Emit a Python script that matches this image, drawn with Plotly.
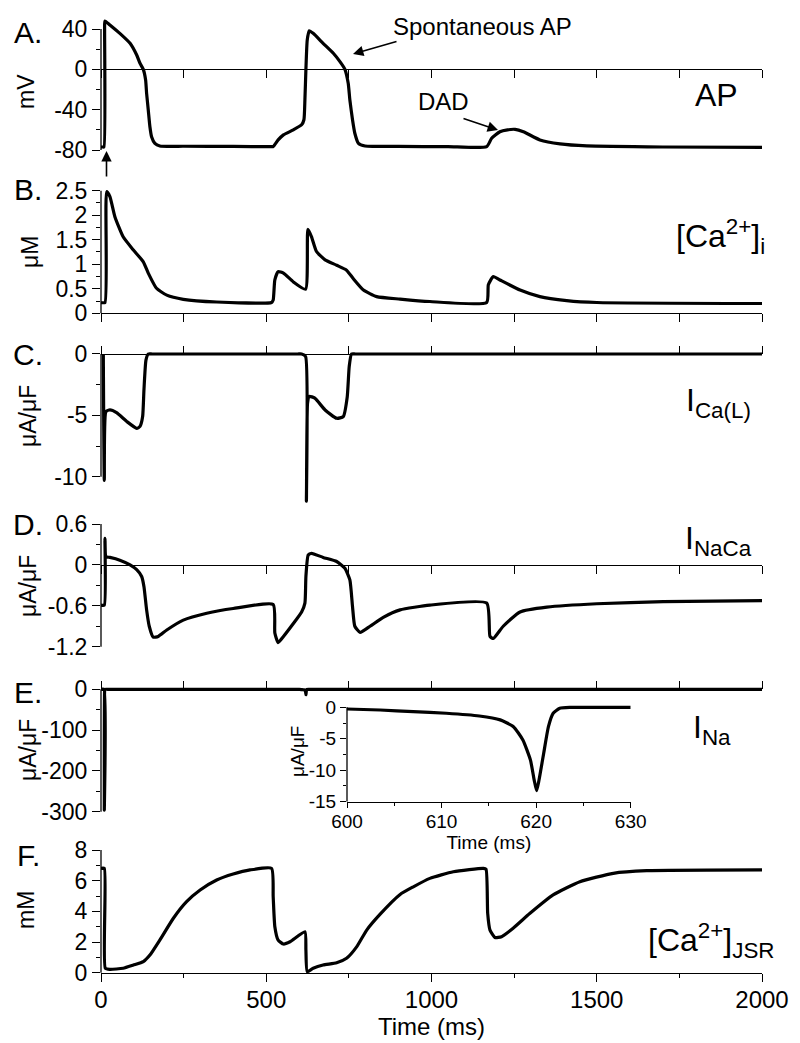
import plotly.graph_objects as go

# The page body adds an 8px offset, so the figure is 8px smaller and all
# pixel positions below are given in window pixels and shifted by OFF.
OFF = 8
W, H = 800 - OFF, 1043 - OFF
FONT = "Liberation Sans"

# ---------------- data ----------------
t_ap = [0, 5, 9, 11, 12, 27, 57, 88, 108, 118, 128, 135, 138, 143, 148, 153, 163, 178, 250, 400, 516,
        521, 536, 552, 582, 607, 614, 617, 620, 624, 630, 642, 672, 703, 723, 738, 748, 753, 761, 768,
        779, 799, 900, 1050, 1167, 1182, 1207, 1230, 1253, 1278, 1328, 1389, 1470, 1700, 2000]
v_ap = [-77, -77, -77, 45, 48, 44, 35.7, 25.8, 14.2, 6, 0, -10.6, -23.8, -40.3, -56.9, -66.8, -73.4, -76, -76.3, -76.5, -76.7,
        -76.7, -70, -65, -60, -55, -50, -30, 0, 29, 38.3, 35.7, 25.8, 15.9, 7.6, 0, -13.9, -30.4, -50, -63.4,
        -73.4, -76, -76.5, -76.7, -76.7, -68.4, -61.9, -60, -59.5, -61.9, -70, -74, -76, -77, -77.3]

t_cai = [0, 12, 17, 27, 42, 67, 98, 128, 143, 168, 199, 249, 350, 516, 521, 526, 536, 552, 582, 619,
         626, 637, 652, 678, 713, 743, 763, 794, 834, 905, 995, 1167, 1172, 1187, 1207, 1268, 1328, 1409, 1500, 2000]
cai = [0.22, 0.22, 2.48, 2.38, 1.97, 1.56, 1.29, 1.05, 0.82, 0.51, 0.37, 0.285, 0.23, 0.22, 0.27, 0.68, 0.85, 0.82, 0.64, 0.49,
       1.71, 1.56, 1.26, 1.09, 0.98, 0.88, 0.71, 0.475, 0.34, 0.29, 0.24, 0.22, 0.58, 0.75, 0.68, 0.475, 0.34, 0.26, 0.22, 0.2]

t_ical = [7, 10, 15, 27, 47, 78, 108, 118, 126, 130, 136, 143, 155, 400, 595, 607, 619, 621.5, 625, 630, 647, 678,
          713, 733, 745, 751, 758, 770, 1000, 2000]
ical = [0, -10.3, -4.7, -4.56, -4.78, -5.5, -6.06, -5.9, -5.1, -2.9, -0.5, 0, 0, 0, 0, 0, -0.2, -12.0, -4.0, -3.45, -3.6, -4.56,
        -5.24, -5.1, -3.5, -1.03, 0, 0, 0, 0]

t_inaca = [0, 10, 12, 15, 27, 57, 88, 108, 123, 130, 138, 146, 158, 173, 199, 249, 320, 400, 521, 526,
           536, 552, 582, 607, 617, 620, 627, 637, 672, 713, 738, 753, 761, 768, 784, 814, 854, 905, 995, 1167,
           1177, 1187, 1217, 1268, 1349, 1500, 1701, 2000]
inaca = [-0.59, -0.59, 0.39, 0.12, 0.11, 0.07, 0.0, -0.07, -0.17, -0.32, -0.66, -0.9, -1.06, -1.05, -0.955, -0.81, -0.71, -0.64, -0.58, -1.0,
         -1.14, -1.05, -0.86, -0.69, -0.56, -0.17, 0.145, 0.17, 0.11, 0.05, -0.05, -0.22, -0.61, -0.9, -0.99, -0.9, -0.77, -0.66, -0.59, -0.56,
         -1.05, -1.08, -0.9, -0.69, -0.62, -0.57, -0.54, -0.525]

t_ina = [0, 9, 10, 11, 12, 20, 300, 600, 607, 614, 617.6, 618.6, 619.4, 620.05, 620.8, 621.3, 621.8, 622.5, 630, 640, 1000, 2000]
ina = [0, 0, -296, -3, 0, 0, -0.1, -0.3, -0.7, -1.38, -3.08, -5.2, -8.4, -13.25, -7.3, -3.08, -0.95, -0.16, 0, 0, 0, 0]

t_inset = [600, 603.5, 607, 610.5, 614, 616.2, 617.6, 618.6, 619.4, 619.8, 620.05, 620.3, 620.8, 621.3, 621.8, 622.5, 623.6, 630]
i_inset = [-0.27, -0.43, -0.7, -0.95, -1.38, -2.0, -3.08, -5.2, -8.4, -11.6, -13.25, -11.6, -7.3, -3.08, -0.95, -0.16, -0.02, -0.02]

t_jsr = [0, 10, 13, 27, 67, 98, 128, 148, 178, 219, 259, 300, 350, 400, 451, 516, 521, 526, 536, 552,
         572, 617, 620, 624, 642, 672, 713, 743, 774, 804, 844, 905, 945, 995, 1066, 1157, 1165, 1170, 1177, 1192,
         1212, 1247, 1298, 1368, 1449, 1550, 1651, 2000]
jsr = [6.8, 6.8, 0.29, 0.22, 0.29, 0.5, 0.72, 1.15, 2.13, 3.55, 4.63, 5.39, 6.04, 6.43, 6.7, 6.8, 4.95, 3.0, 2.13, 1.87,
       2.02, 2.67, 1.48, 0.07, 0.29, 0.5, 0.65, 0.94, 1.7, 2.78, 3.8, 5.1, 5.6, 6.15, 6.58, 6.8, 6.74, 3.87, 2.78, 2.3,
       2.35, 2.9, 3.87, 5.07, 5.93, 6.48, 6.65, 6.7]

# tick values / labels
yt_a = [40, 0, -40, -80]
ym_a = [20, -20, -60]
yt_b = [0, 0.5, 1, 1.5, 2, 2.5]
ym_b = [0.25, 0.75, 1.25, 1.75, 2.25]
yt_c = [0, -5, -10]
ym_c = [-2.5, -7.5]
yt_d = [0.6, 0, -0.6, -1.2]
ym_d = [0.3, -0.3, -0.9]
yt_e = [0, -100, -200, -300]
ym_e = [-50, -150, -250]
yt_f = [0, 2, 4, 6, 8]
ym_f = [1, 3, 5, 7]
yt_in = [0, -5, -10, -15]
ym_in = [-2.5, -7.5, -12.5]
xt_main = [0, 500, 1000, 1500, 2000]
xm_main = [250, 750, 1250, 1750]
xt_in = [600, 610, 620, 630]
xm_in = [605, 615, 625]

# ---------------- layout geometry (window pixels -> paper) ----------------
def px(x):
    return (x - OFF) / W

def py(y):
    return 1 - (y - OFF) / H

X0, X1 = 101, 762
XD = [px(X0), px(X1)]

def ygeom(va, pa, vb, pb, rng):
    s = (pb - pa) / (va - vb)
    top = pa - (rng[1] - va) * s
    bot = pb + (vb - rng[0]) * s
    zero = pa + va * s
    return [py(bot), py(top)], py(zero)

panels = [
    dict(tr=(t_ap, v_ap), cal=(40, 29, -80, 150), rng=[-84, 52], tv=yt_a, mv=ym_a, side="bottom"),
    dict(tr=(t_cai, cai), cal=(2.5, 190.7, 0, 313.3), rng=[-0.05, 2.6], tv=yt_b, mv=ym_b, side="bottom"),
    dict(tr=(t_ical, ical), cal=(0, 354, -10, 476.7), rng=[-12.6, 0.6], tv=yt_c, mv=ym_c, side="top"),
    dict(tr=(t_inaca, inaca), cal=(0.6, 524, -1.2, 646.7), rng=[-1.25, 0.65], tv=yt_d, mv=ym_d, side="bottom"),
    dict(tr=(t_ina, ina), cal=(0, 689.3, -300, 811.7), rng=[-305, 12], tv=yt_e, mv=ym_e, side="top"),
    dict(tr=(t_jsr, jsr), cal=(8, 850, 0, 972.7), rng=[-0.15, 8.2], tv=yt_f, mv=ym_f, side="bottom"),
]

fig = go.Figure()
layout = dict(width=W, height=H, margin=dict(l=0, r=0, t=0, b=0, autoexpand=False), showlegend=False,
              paper_bgcolor="white", plot_bgcolor="white",
              font=dict(family=FONT, color="black", size=22))
shapes = []
LW = 3.2
AX = 1.3
LINE = dict(color="black", width=LW, shape="spline", smoothing=0.5)

def fmt(v):
    return "%g" % v

for i, p in enumerate(panels, start=1):
    sfx = "" if i == 1 else str(i)
    dom, zero = ygeom(*p["cal"], p["rng"])
    fig.add_trace(go.Scatter(x=p["tr"][0], y=p["tr"][1], mode="lines", line=LINE,
                             xaxis="x" + sfx, yaxis="y" + sfx, hoverinfo="skip"))
    last = (i == 6)
    xa = dict(domain=XD, range=[0, 2000], anchor="free", position=zero, side=p["side"], automargin=False,
              showline=True, linecolor="black", linewidth=AX, showgrid=False, zeroline=False,
              ticks="outside", tickcolor="black", tickwidth=AX, ticklen=8)
    if last:
        xa.update(tickmode="array", tickvals=xt_main, ticktext=[str(v) for v in xt_main],
                  showticklabels=True, tickfont=dict(size=24, family=FONT), ticklabelstandoff=-3,
                  minor=dict(tickmode="array", tickvals=xm_main, ticks="outside",
                             ticklen=4, tickcolor="black", tickwidth=AX),
                  title=dict(text="Time (ms)", font=dict(size=24, family=FONT), standoff=4))
    else:
        xa.update(tickmode="linear", tick0=0, dtick=250, showticklabels=False)
    ya = dict(domain=dom, range=p["rng"], anchor="x" + sfx, automargin=False,
              showline=False, showgrid=False, zeroline=False,
              tickmode="array", tickvals=p["tv"], ticktext=[fmt(v) for v in p["tv"]],
              ticks="outside", tickcolor="black", tickwidth=AX, ticklen=8,
              tickfont=dict(size=23, family=FONT),
              minor=dict(tickmode="array", tickvals=p["mv"], ticks="outside", ticklen=4,
                         tickcolor="black", tickwidth=AX))
    layout["xaxis" + sfx] = xa
    layout["yaxis" + sfx] = ya
    shapes.append(dict(type="line", xref="paper", yref="y" + sfx, x0=px(X0), x1=px(X0),
                       y0=min(p["tv"]), y1=max(p["tv"]), line=dict(color="black", width=AX)))

# inset (panel E)
IX0, IX1 = 347, 630.7
in_dom, _ = ygeom(0, 707.3, -15, 801.7, [-15, 0.6])
fig.add_trace(go.Scatter(x=t_inset, y=i_inset, mode="lines", line=LINE,
                         xaxis="x7", yaxis="y7", hoverinfo="skip"))
layout["xaxis7"] = dict(domain=[px(IX0), px(IX1)], range=[600, 630], anchor="y7", side="bottom", automargin=False,
                        showline=True, linecolor="black", linewidth=AX, showgrid=False, zeroline=False,
                        tickmode="array", tickvals=xt_in, ticktext=[str(v) for v in xt_in],
                        ticks="outside", ticklen=5, tickcolor="black", tickwidth=AX,
                        tickfont=dict(size=19, family=FONT), ticklabelstandoff=-3,
                        minor=dict(tickmode="array", tickvals=xm_in, ticks="outside", ticklen=3,
                                   tickcolor="black", tickwidth=AX),
                        title=dict(text="Time (ms)", font=dict(size=19, family=FONT), standoff=0))
layout["yaxis7"] = dict(domain=in_dom, range=[-15, 0.6], anchor="x7", automargin=False,
                        showline=False, showgrid=False, zeroline=False,
                        tickmode="array", tickvals=yt_in, ticktext=[fmt(v) for v in yt_in],
                        ticks="outside", ticklen=6, tickcolor="black", tickwidth=AX,
                        tickfont=dict(size=19, family=FONT),
                        minor=dict(tickmode="array", tickvals=ym_in, ticks="outside", ticklen=3,
                                   tickcolor="black", tickwidth=AX))
shapes.append(dict(type="line", xref="paper", yref="y7", x0=px(IX0), x1=px(IX0), y0=-15, y1=0,
                   line=dict(color="black", width=AX)))

# ---------------- annotations ----------------
ann = []

def text(s, x, y, size, xanchor="center", yanchor="middle", angle=0):
    ann.append(dict(text=s, x=px(x), y=py(y), xref="paper", yref="paper", showarrow=False,
                    xanchor=xanchor, yanchor=yanchor, textangle=angle,
                    font=dict(size=size, family=FONT, color="black")))

def arrow(hx, hy, tx, ty):
    ann.append(dict(text="", x=px(hx), y=py(hy), xref="paper", yref="paper", showarrow=True,
                    ax=tx - hx, ay=ty - hy, arrowhead=2, arrowsize=1.3, arrowwidth=1.6,
                    arrowcolor="black", standoff=0, startstandoff=0))

# panel letters
for lab, yy in zip(["A.", "B.", "C.", "D.", "E.", "F."], [32, 190, 354, 524, 692, 855]):
    text(lab, 28, yy, 30)

# y-axis titles
text("mV", 26, 92, 23, angle=-90)
text("\u03bcM", 30, 252, 23, angle=-90)
text("\u03bcA/\u03bcF", 28, 416, 23, angle=-90)
text("\u03bcA/\u03bcF", 28, 586, 23, angle=-90)
text("\u03bcA/\u03bcF", 28, 750, 23, angle=-90)
text("mM", 26, 910, 23, angle=-90)
text("\u03bcA/\u03bcF", 297, 752, 19, angle=-90)

# trace labels
text("AP", 693, 95, 32, xanchor="left")
text("[Ca<sup>2+</sup>]<sub>i</sub>", 674, 236, 32, xanchor="left")
text("I<sub>Ca(L)</sub>", 684, 402, 32, xanchor="left")
text("I<sub>NaCa</sub>", 683, 540, 32, xanchor="left")
text("I<sub>Na</sub>", 691, 730, 32, xanchor="left")
text("[Ca<sup>2+</sup>]<sub>JSR</sub>", 646, 940, 32, xanchor="left")

# event labels and arrows
text("Spontaneous AP", 391, 27, 24, xanchor="left")
arrow(353, 54, 398, 41)
text("DAD", 416, 102, 24, xanchor="left")
arrow(498, 130, 462, 118)
arrow(106.5, 151, 106.5, 178)

layout["annotations"] = ann
layout["shapes"] = shapes
fig.update_layout(**layout)
fig.write_html("out.html")
